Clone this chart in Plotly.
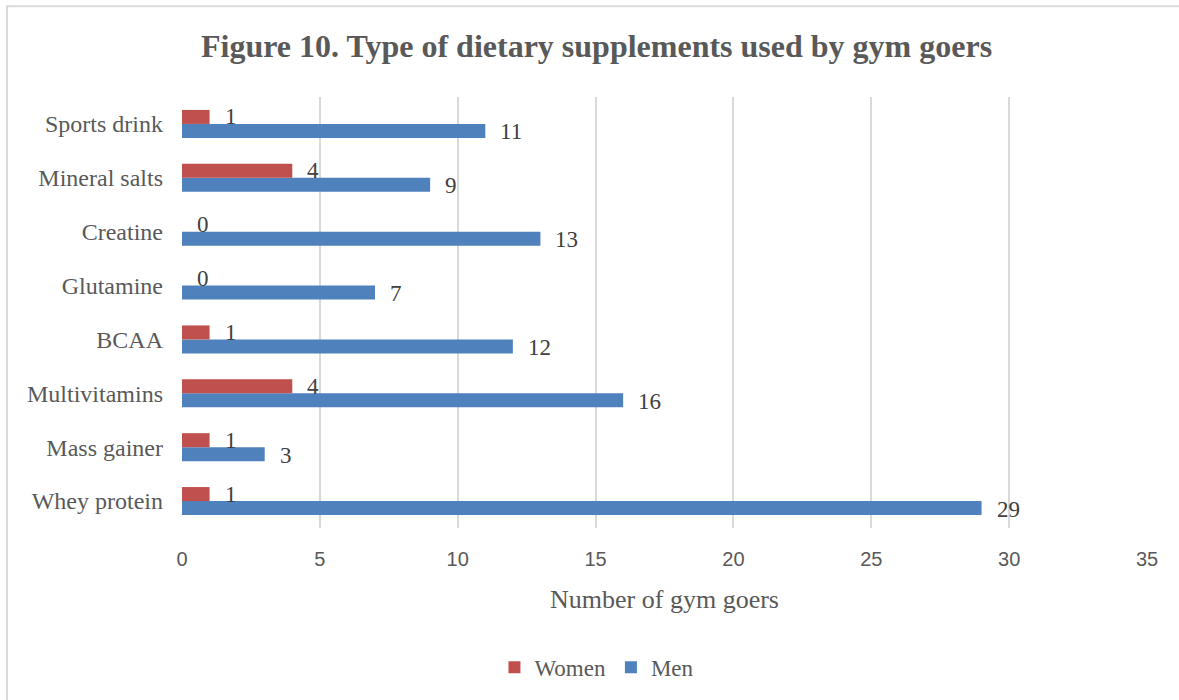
import plotly.graph_objects as go

# Supplement categories, listed bottom to top
categories = ["Whey protein", "Mass gainer", "Multivitamins", "BCAA",
              "Glutamine", "Creatine", "Mineral salts", "Sports drink"]
women = [1, 1, 4, 1, 0, 0, 4, 1]
men = [29, 3, 16, 12, 7, 13, 9, 11]
x_ticks = [0, 5, 10, 15, 20, 25, 30, 35]

serif = "Liberation Serif, Times New Roman, serif"
sans = "Liberation Sans, Arial, sans-serif"
grey = "#595959"

fig = go.Figure()
fig.add_trace(go.Bar(y=categories, x=men, name="Men", orientation="h",
                     marker=dict(color="#4F81BD", line=dict(width=0))))
fig.add_trace(go.Bar(y=categories, x=women, name="Women", orientation="h",
                     marker=dict(color="#C0504D", line=dict(width=0))))

# Value labels to the right of each bar
annotations = []
for cat, w, m in zip(categories, women, men):
    annotations.append(dict(x=w, y=cat, text=str(w), showarrow=False,
                            xanchor="left", xshift=13, yshift=7,
                            font=dict(family=serif, size=23, color="#404040")))
    annotations.append(dict(x=m, y=cat, text=str(m), showarrow=False,
                            xanchor="left", xshift=13, yshift=-8,
                            font=dict(family=serif, size=23, color="#404040")))

fig.update_layout(
    width=1179, height=700,
    margin=dict(l=182, r=32, t=97, b=171),
    paper_bgcolor="white", plot_bgcolor="white",
    barmode="group", bargap=0.48, bargroupgap=0,
    title=dict(text="<b>Figure 10. Type of dietary supplements used by gym goers</b>",
               x=0.506, xanchor="center", y=0.935, yanchor="middle",
               font=dict(family=serif, size=32, color=grey)),
    xaxis=dict(range=[0, 35], tickvals=x_ticks, showgrid=True,
               gridcolor="#D9D9D9", gridwidth=1.5, zeroline=False,
               showline=False, ticks="", ticklabelstandoff=17,
               tickfont=dict(family=sans, size=20, color=grey),
               title=dict(text="Number of gym goers", standoff=20,
                          font=dict(family=serif, size=26, color=grey))),
    yaxis=dict(categoryorder="array", categoryarray=categories,
               showgrid=False, zeroline=False, showline=False, ticks="",
               ticklabelstandoff=18,
               tickfont=dict(family=serif, size=24, color=grey)),
    legend=dict(orientation="h", x=0.43, xanchor="center", y=-0.32,
                yanchor="middle", traceorder="reversed",
                font=dict(family=serif, size=23, color=grey),
                itemwidth=30),
    annotations=annotations,
    shapes=[dict(type="rect", xref="paper", yref="paper",
                 x0=-0.1813, x1=1.04, y0=-0.45, y1=1.2106,
                 line=dict(color="#D9D9D9", width=2), layer="below")],
)

fig.write_html("out.html")
